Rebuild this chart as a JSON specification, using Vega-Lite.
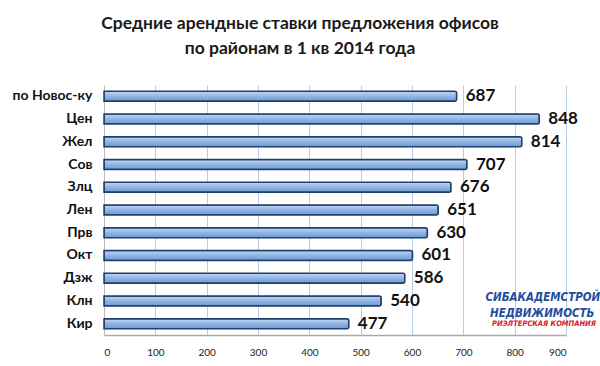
{
  "$schema": "https://vega.github.io/schema/vega-lite/v6.json",
  "width": 462,
  "height": 250,
  "autosize": "none",
  "padding": {"left": 104, "top": 85, "right": 34, "bottom": 31},
  "background": "white",
  "title": {
    "text": ["Средние арендные ставки предложения офисов", "по районам в 1 кв 2014 года"],
    "font": "Lato",
    "fontSize": 17.5,
    "fontWeight": "bold",
    "color": "#1a1a1a",
    "anchor": "middle",
    "dx": -35,
    "offset": 28,
    "lineHeight": 25
  },
  "config": {"view": {"stroke": null}},
  "layer": [
    {
      "data": {"values": [
        {"district": "по Новос-ку", "rate": 687},
        {"district": "Цен", "rate": 848},
        {"district": "Жел", "rate": 814},
        {"district": "Сов", "rate": 707},
        {"district": "Злц", "rate": 676},
        {"district": "Лен", "rate": 651},
        {"district": "Прв", "rate": 630},
        {"district": "Окт", "rate": 601},
        {"district": "Дзж", "rate": 586},
        {"district": "Клн", "rate": 540},
        {"district": "Кир", "rate": 477}
      ]},
      "encoding": {
        "y": {"field": "district", "type": "nominal", "sort": null,
          "axis": {"title": null, "ticks": false, "labelFont": "Lato", "labelFontSize": 14, "labelFontWeight": "bold", "labelColor": "#111", "labelPadding": 12, "domainColor": "#bbbbbb"}},
        "x": {"field": "rate", "type": "quantitative",
          "scale": {"domain": [0, 900], "nice": false},
          "axis": {"title": null, "values": [0,100,200,300,400,500,600,700,800,900], "ticks": false, "labelFont": "Lato", "labelFontSize": 10, "labelColor": "#222", "labelPadding": 12, "gridColor": "#b9cde5", "gridWidth": 1, "domainColor": "#aaaaaa", "domainWidth": 1.5}}
      },
      "layer": [
        {"mark": {"type": "bar", "size": 10, "fill": {"x1": 0, "y1": 0, "x2": 0, "y2": 1, "gradient": "linear", "stops": [{"offset": 0, "color": "#c6d9f1"}, {"offset": 0.5, "color": "#8eb4e3"}, {"offset": 1, "color": "#6f9bd1"}]}, "stroke": "#1f3f6e", "strokeWidth": 1.5, "cornerRadiusEnd": 2}},
        {"mark": {"type": "text", "align": "left", "dx": 9, "font": "Lato", "fontSize": 17, "fontWeight": "bold", "color": "#111"},
          "encoding": {"text": {"field": "rate", "type": "quantitative"}}}
      ]
    },
    {
      "data": {"values": [
        {"district": "Клн", "pos": 743, "label": "СИБАКАДЕМСТРОЙ"}
      ]},
      "mark": {"type": "text", "align": "left", "font": "DejaVu Sans Condensed", "fontSize": 11.5, "fontWeight": "bold", "fontStyle": "italic", "color": "#1f4e9e", "dy": -3},
      "encoding": {
        "y": {"field": "district", "type": "nominal", "sort": null},
        "x": {"field": "pos", "type": "quantitative"},
        "text": {"field": "label"}
      }
    },
    {
      "data": {"values": [
        {"district": "Кир", "pos": 752, "label": "НЕДВИЖИМОСТЬ"}
      ]},
      "mark": {"type": "text", "align": "left", "font": "DejaVu Sans Condensed", "fontSize": 11.5, "fontWeight": "bold", "fontStyle": "italic", "color": "#1f4e9e", "dy": -10},
      "encoding": {
        "y": {"field": "district", "type": "nominal", "sort": null},
        "x": {"field": "pos", "type": "quantitative"},
        "text": {"field": "label"}
      }
    },
    {
      "data": {"values": [
        {"district": "Кир", "pos": 756, "label": "РИЭЛТЕРСКАЯ КОМПАНИЯ"}
      ]},
      "mark": {"type": "text", "align": "left", "font": "DejaVu Sans Condensed", "fontSize": 7.5, "fontWeight": "bold", "fontStyle": "italic", "color": "#d62027", "dy": 0},
      "encoding": {
        "y": {"field": "district", "type": "nominal", "sort": null},
        "x": {"field": "pos", "type": "quantitative"},
        "text": {"field": "label"}
      }
    }
  ]
}
